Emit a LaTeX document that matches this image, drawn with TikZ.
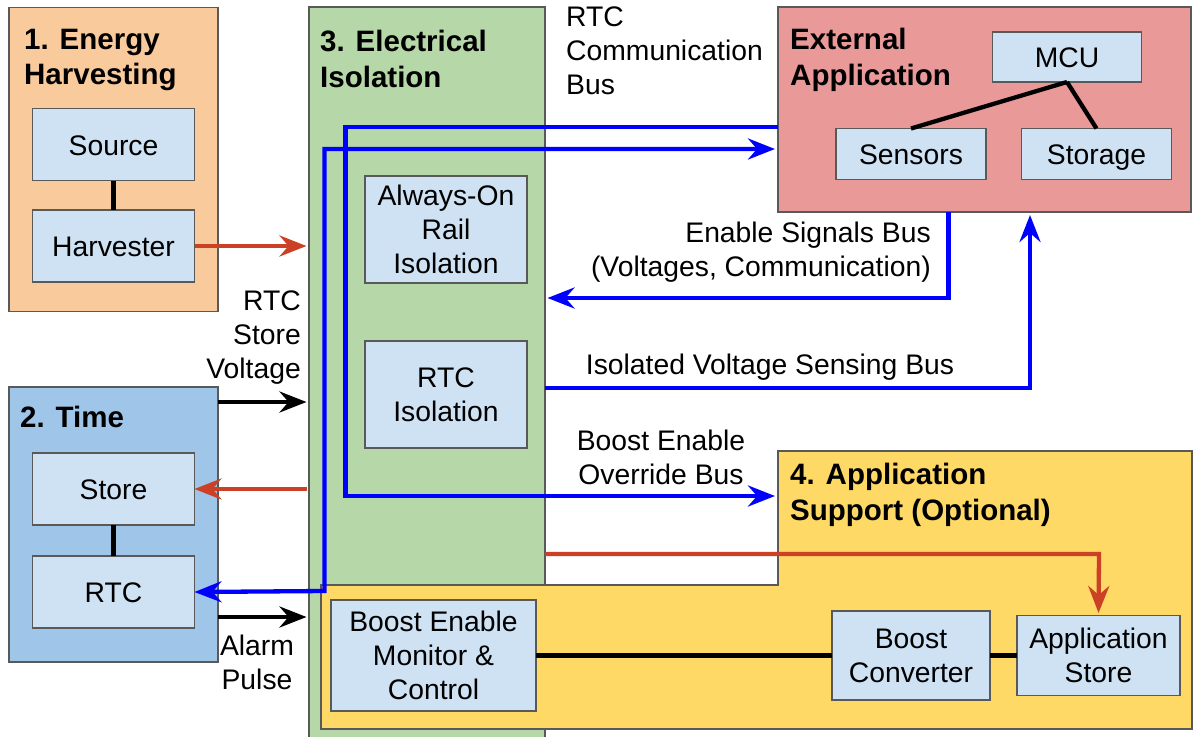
\documentclass[tikz,border=0pt]{standalone}
\usepackage{fontspec}
\setmainfont{Liberation Sans}
\usetikzlibrary{arrows.meta}

\definecolor{grporange}{HTML}{F9CB9C}
\definecolor{grpblue}{HTML}{9FC5E8}
\definecolor{grpgreen}{HTML}{B6D7A8}
\definecolor{grpred}{HTML}{EA9999}
\definecolor{grpyellow}{HTML}{FFD966}
\definecolor{boxblue}{HTML}{CFE2F3}
\definecolor{edgegray}{HTML}{595959}
\definecolor{flowred}{HTML}{CC4125}
\definecolor{busblue}{HTML}{0000FF}

\newcommand\lblfont{\fontsize{28.3}{34}\selectfont}
\newcommand\ttlfont{\bfseries\fontsize{29.5}{35.5}\selectfont}

\tikzset{
  grp/.style={draw=edgegray, line width=1.3pt, inner sep=0pt, outer sep=0pt},
  blk/.style={draw=edgegray, fill=boxblue, line width=1.3pt, align=center,
              font=\lblfont, inner sep=0pt, outer sep=0pt},
  oneline/.style={text height=24pt, text depth=3pt},
  ttl/.style={font=\ttlfont, align=left, inner sep=0pt, anchor=west},
  lbl/.style={font=\lblfont, inner sep=0pt},
  tie/.style={line width=4.3pt, black},
  >={Stealth[length=27pt,width=21pt,inset=9pt]},
  flow/.style={line width=4.3pt, ->},
  bus/.style={line width=4.3pt, busblue},
}

\begin{document}
\begin{tikzpicture}[x=1pt,y=-1pt]
\useasboundingbox (0,0) rectangle (1193,736);

% groups
\node[grp, fill=grporange, minimum width=209, minimum height=304] (g1) at (113.5,159.5) {};
\node[grp, fill=grpblue, minimum width=209, minimum height=275] (g2) at (113.5,524.5) {};
\node[grp, fill=grpgreen, minimum width=236, minimum height=738] (g3) at (427,376) {};
\node[grp, fill=grpred, minimum width=413, minimum height=205] (ext) at (984.5,109.5) {};
\draw[grp, fill=grpyellow] (778,451) -- (1192,451) -- (1192,729) -- (321,729)
  -- (321,585) -- (778,585) -- cycle;
\coordinate (g4in) at (778,496);

% group titles
\node[ttl] (t1) at (24,60) {1. Energy\\Harvesting};
\node[ttl] (t2) at (20,417) {2. Time};
\node[ttl] (t3) at (320,59) {3. Electrical\\Isolation};
\node[ttl] (t5) at (790,60) {External\\Application};
\node[ttl] (t4) at (790,495) {4. Application\\Support (Optional)};

% blocks
\node[blk, oneline, minimum width=162, minimum height=72] (src) at (113.5,144.5) {Source};
\node[blk, oneline, minimum width=162, minimum height=72] (harv) at (113.5,246) {Harvester};
\node[blk, oneline, minimum width=162, minimum height=72] (store) at (113.5,489) {Store};
\node[blk, oneline, minimum width=162, minimum height=72] (rtc) at (113.5,592) {RTC};
\node[blk, minimum width=162, minimum height=107] (alw) at (446,229.5) {Always-On\\Rail\\Isolation};
\node[blk, minimum width=162, minimum height=107] (rtciso) at (446,394.5) {RTC\\Isolation};
\node[blk, oneline, minimum width=149, minimum height=50] (mcu) at (1067,57) {MCU};
\node[blk, oneline, minimum width=150, minimum height=51] (sens) at (911,154) {Sensors};
\node[blk, oneline, minimum width=150, minimum height=51] (stor) at (1096.5,154) {Storage};
\node[blk, minimum width=205, minimum height=111] (bmon) at (433.5,655.5) {Boost Enable\\Monitor \&\\Control};
\node[blk, minimum width=158, minimum height=89] (bconv) at (911,655.5) {Boost\\Converter};
\node[blk, minimum width=163, minimum height=80] (astore) at (1098.5,655.5) {Application\\Store};

% internal ties
\draw[tie] (src) -- (harv);
\draw[tie] (store) -- (rtc);
\draw[tie] (mcu.south) -- (sens.north);
\draw[tie] (mcu.south) -- (stor.north);
\draw[tie] (bmon) -- (bconv);
\draw[tie] (bconv) -- (astore);

% power and signal flows
\draw[flow, flowred, shorten >=2.5pt] (harv.east) -- (harv.east -| g3.west);
\draw[flow, shorten >=2.5pt] ([yshift=-15pt]g2.north east) -- ([yshift=-15pt]g2.north east -| g3.west);
\draw[flow, flowred, shorten <=2.5pt] (store.east -| g3.west) -- (store.east);
\draw[flow, shorten >=2.5pt] ([yshift=45pt]g2.south east) -- ([yshift=45pt]g2.south east -| g3.west);
\draw[flow, flowred, shorten >=2.5pt] (g3.east |- 0,554) -- (1099,554) -- (astore.north);

% buses
\draw[bus, <->, shorten >=3pt] (rtc.east) -- (324.5,591) -- (324.5,149) -- (ext.west |- 0,149);
\draw[bus, ->, shorten >=3pt] (ext.west |- 0,127) -- (345.5,127) -- (345.5,496) -- (g4in);
\draw[bus, ->, shorten >=2.5pt] (948.5,0 |- ext.south) -- (948.5,298) -- (g3.east |- 0,298);
\draw[bus, ->, shorten >=3pt] (g3.east |- 0,388) -- (1030,388) -- (1030,0 |- ext.south);

% labels
\node[lbl, align=right, anchor=east] (lvolt) at (301,338) {RTC\\Store\\Voltage};
\node[lbl, align=center] (lalarm) at (257,662) {Alarm\\Pulse};
\node[lbl, align=left, anchor=west] (lcomm) at (566,51) {RTC\\Communication\\Bus};
\node[lbl, align=right, anchor=east] (lenable) at (931,252) {Enable Signals Bus\\(Voltages, Communication)};
\node[lbl] (lsense) at (770,367) {Isolated Voltage Sensing Bus};
\node[lbl, align=center] (lboost) at (661,457) {Boost Enable\\Override Bus};
\end{tikzpicture}
\end{document}
